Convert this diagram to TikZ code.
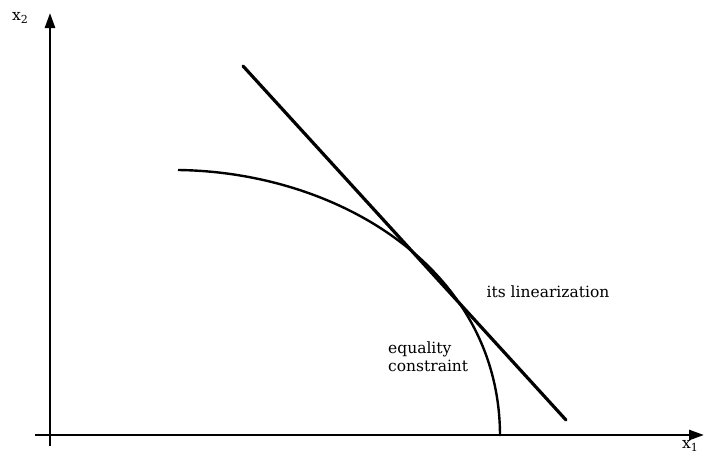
\documentclass[tikz,border=0pt]{standalone}
\usepackage{fontspec}
\setmainfont{DejaVu Serif}
\usetikzlibrary{arrows.meta}
\newcommand{\subidx}[1]{\raisebox{-0.35ex}{\fontsize{11}{11}\selectfont #1}}
\begin{document}
\begin{tikzpicture}[x=1pt,y=-1pt,
  axis/.style={line width=2.6pt,-{Triangle[length=15pt,width=10pt]}},
  lin/.style={line width=3.2pt,line cap=round},
  curve/.style={line width=2.4pt},
  lbl/.style={font=\fontsize{15.5}{18}\selectfont,inner sep=0pt}]
\useasboundingbox (0,0) rectangle (704,455);
\coordinate (yb) at (50,446);
\coordinate (yt) at (50,13);
\coordinate (xl) at (35,435);
\coordinate (xr) at (704,435);
\draw[axis] (yb) -- (yt);
\draw[axis] (xl) -- (xr);
\node[lbl] (x2) at (20,18) {x\subidx{2}};
\node[lbl] (x1) at (690,446) {x\subidx{1}};
\coordinate (la) at (243,66);
\coordinate (lb) at (566,420);
\draw[lin] (la) -- (lb);
\coordinate (c0) at (178,170);
\coordinate (c1) at (500,436);
\draw[curve] (c0) .. controls (340,172) and (500,270) .. (c1);
\node[lbl] (its) at (548,292) {its linearization};
\node[lbl,align=left,anchor=west] (eq) at (388,357) {equality\\constraint};
\end{tikzpicture}
\end{document}
